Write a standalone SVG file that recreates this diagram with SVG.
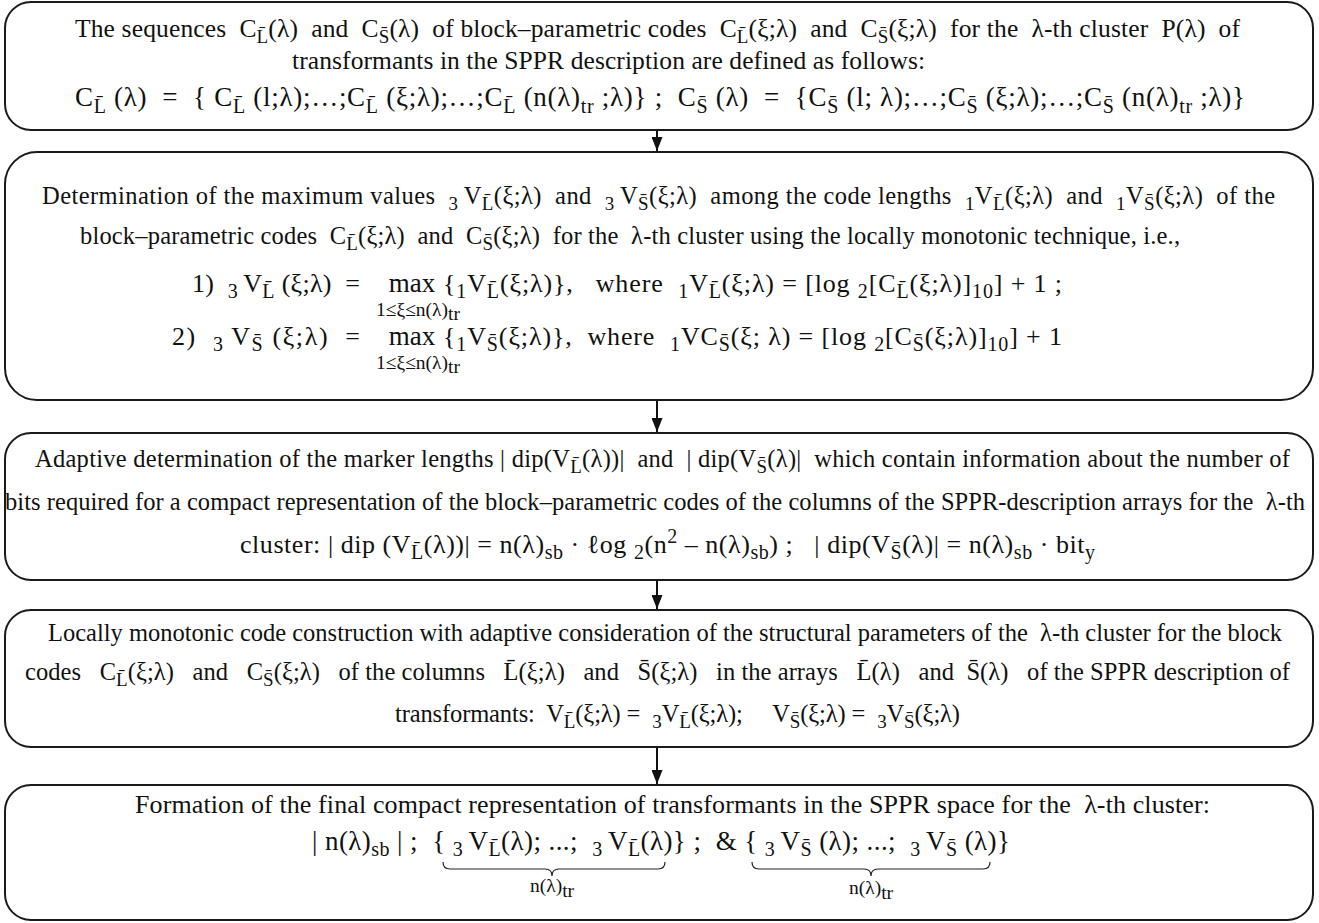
<svg xmlns="http://www.w3.org/2000/svg" width="1319" height="923" viewBox="0 0 1319 923">
<style>
.box{fill:#fff;stroke:#1a1a1a;stroke-width:2}
.t{font-family:'Liberation Serif','DejaVu Serif','Times New Roman',serif;font-size:24.5px;fill:#111;white-space:pre}
.b1{font-size:25.5px}
.m{font-size:26px}
.m27{font-size:27px}
.b5{font-size:26px}
.s{font-size:19px}
.s2{font-size:20px}
.mx{font-size:27px}
.u{font-family:'Liberation Serif','DejaVu Serif','Times New Roman',serif;font-size:19.5px;fill:#111;white-space:pre}
.conn line{stroke:#111;stroke-width:2}
.brace{fill:none;stroke:#222;stroke-width:1.2}
</style>
<defs>
<marker id="ah" markerUnits="userSpaceOnUse" markerWidth="14" markerHeight="11" refX="14" refY="5.5" orient="auto"><path d="M0,0 L14,5.5 L0,11 z" fill="#111"/></marker>
</defs>
<rect width="1319" height="923" fill="#fff"/>
<g id="connectors" class="conn">
<line x1="657" y1="130" x2="657" y2="151" marker-end="url(#ah)"/>
<line x1="657" y1="400" x2="657" y2="432" marker-end="url(#ah)"/>
<line x1="657" y1="580" x2="657" y2="609" marker-end="url(#ah)"/>
<line x1="657" y1="747" x2="657" y2="784" marker-end="url(#ah)"/>
</g>
<g id="node1">
<rect class="box" x="5" y="2" width="1308" height="128" rx="26"/>
<text class="t b1" x="75" y="37" textLength="1165" lengthAdjust="spacing">The sequences  C<tspan class="s" dy="6">L&#x304;</tspan><tspan dy="-6">(λ)  and  C</tspan><tspan class="s" dy="6">S&#x304;</tspan><tspan dy="-6">(λ)  of block–parametric codes  C</tspan><tspan class="s" dy="6">L&#x304;</tspan><tspan dy="-6">(ξ;λ)  and  C</tspan><tspan class="s" dy="6">S&#x304;</tspan><tspan dy="-6">(ξ;λ)  for the  λ-th cluster  P(λ)  of</tspan></text>
<text class="t b1" x="292" y="69" textLength="633" lengthAdjust="spacing">transformants in the SPPR description are defined as follows:</text>
<text class="t m27" x="75" y="106" textLength="1170" lengthAdjust="spacing">C<tspan class="s2" dy="7">L&#x304;</tspan><tspan dy="-7"> (λ)  =  { C</tspan><tspan class="s2" dy="7">L&#x304;</tspan><tspan dy="-7"> (l;λ);…;C</tspan><tspan class="s2" dy="7">L&#x304;</tspan><tspan dy="-7"> (ξ;λ);…;C</tspan><tspan class="s2" dy="7">L&#x304;</tspan><tspan dy="-7"> (n(λ)</tspan><tspan class="s2" dy="7">tr</tspan><tspan dy="-7"> ;λ)} ;  C</tspan><tspan class="s2" dy="7">S&#x304;</tspan><tspan dy="-7"> (λ)  =  {C</tspan><tspan class="s2" dy="7">S&#x304;</tspan><tspan dy="-7"> (l; λ);…;C</tspan><tspan class="s2" dy="7">S&#x304;</tspan><tspan dy="-7"> (ξ;λ);…;C</tspan><tspan class="s2" dy="7">S&#x304;</tspan><tspan dy="-7"> (n(λ)</tspan><tspan class="s2" dy="7">tr</tspan><tspan dy="-7"> ;λ)}</tspan></text>
</g>
<g id="node2">
<rect class="box" x="5" y="152" width="1308" height="248" rx="32"/>
<text class="t" x="42" y="204" textLength="1233" lengthAdjust="spacing">Determination of the maximum values  <tspan class="s" dy="6">3 </tspan><tspan dy="-6">V</tspan><tspan class="s" dy="6">L&#x304;</tspan><tspan dy="-6">(ξ;λ)  and  </tspan><tspan class="s" dy="6">3 </tspan><tspan dy="-6">V</tspan><tspan class="s" dy="6">S&#x304;</tspan><tspan dy="-6">(ξ;λ)  among the code lengths  </tspan><tspan class="s" dy="6">1</tspan><tspan dy="-6">V</tspan><tspan class="s" dy="6">L&#x304;</tspan><tspan dy="-6">(ξ;λ)  and  </tspan><tspan class="s" dy="6">1</tspan><tspan dy="-6">V</tspan><tspan class="s" dy="6">S&#x304;</tspan><tspan dy="-6">(ξ;λ)  of the</tspan></text>
<text class="t" x="80" y="244" textLength="1100" lengthAdjust="spacing">block–parametric codes  C<tspan class="s" dy="6">L&#x304;</tspan><tspan dy="-6">(ξ;λ)  and  C</tspan><tspan class="s" dy="6">S&#x304;</tspan><tspan dy="-6">(ξ;λ)  for the  λ-th cluster using the locally monotonic technique, i.e.,</tspan></text>
<text class="t m" x="192" y="292" textLength="168" lengthAdjust="spacing">1)  <tspan class="s2" dy="6">3 </tspan><tspan dy="-6">V</tspan><tspan class="s2" dy="6">L&#x304;</tspan><tspan dy="-6"> (ξ;λ)  =</tspan></text>
<text class="t mx" x="412" y="292" text-anchor="middle">max</text>
<text class="u" x="376" y="316">1≤ξ≤n(λ)<tspan dy="4">tr</tspan></text>
<text class="t m" x="443" y="292" textLength="619" lengthAdjust="spacing">{<tspan class="s2" dy="6">1</tspan><tspan dy="-6">V</tspan><tspan class="s2" dy="6">L&#x304;</tspan><tspan dy="-6">(ξ;λ)},   where  </tspan><tspan class="s2" dy="6">1</tspan><tspan dy="-6">V</tspan><tspan class="s2" dy="6">L&#x304;</tspan><tspan dy="-6">(ξ;λ) = [log </tspan><tspan class="s2" dy="6">2</tspan><tspan dy="-6">[C</tspan><tspan class="s2" dy="6">L&#x304;</tspan><tspan dy="-6">(ξ;λ)]</tspan><tspan class="s2" dy="6">10</tspan><tspan dy="-6">] + 1 ;</tspan></text>
<text class="t m" x="172" y="345" textLength="188" lengthAdjust="spacing">2)  <tspan class="s2" dy="6">3 </tspan><tspan dy="-6">V</tspan><tspan class="s2" dy="6">S&#x304;</tspan><tspan dy="-6"> (ξ;λ)  =</tspan></text>
<text class="t mx" x="412" y="345" text-anchor="middle">max</text>
<text class="u" x="376" y="369">1≤ξ≤n(λ)<tspan dy="4">tr</tspan></text>
<text class="t m" x="443" y="345" textLength="619" lengthAdjust="spacing">{<tspan class="s2" dy="6">1</tspan><tspan dy="-6">V</tspan><tspan class="s2" dy="6">S&#x304;</tspan><tspan dy="-6">(ξ;λ)},  where  </tspan><tspan class="s2" dy="6">1</tspan><tspan dy="-6">VC</tspan><tspan class="s2" dy="6">S&#x304;</tspan><tspan dy="-6">(ξ; λ) = [log </tspan><tspan class="s2" dy="6">2</tspan><tspan dy="-6">[C</tspan><tspan class="s2" dy="6">S&#x304;</tspan><tspan dy="-6">(ξ;λ)]</tspan><tspan class="s2" dy="6">10</tspan><tspan dy="-6">] + 1</tspan></text>
</g>
<g id="node3">
<rect class="box" x="5" y="433" width="1308" height="147" rx="26"/>
<text class="t" x="35" y="467" textLength="1255" lengthAdjust="spacing">Adaptive determination of the marker lengths | dip(V<tspan class="s" dy="6">L&#x304;</tspan><tspan dy="-6">(λ))|  and  | dip(V</tspan><tspan class="s" dy="6">S&#x304;</tspan><tspan dy="-6">(λ)|  which contain information about the number of</tspan></text>
<text class="t" x="5" y="510" textLength="1300" lengthAdjust="spacing">bits required for a compact representation of the block–parametric codes of the columns of the SPPR-description arrays for the  λ-th</text>
<text class="t m" x="240" y="553" textLength="855" lengthAdjust="spacing">cluster: | dip (V<tspan class="s2" dy="6">L&#x304;</tspan><tspan dy="-6">(λ))| = n(λ)</tspan><tspan class="s2" dy="6">sb</tspan><tspan dy="-6"> · ℓog </tspan><tspan class="s2" dy="6">2</tspan><tspan dy="-6">(n</tspan><tspan class="s2" dy="-10">2</tspan><tspan dy="10"> – n(λ)</tspan><tspan class="s2" dy="6">sb</tspan><tspan dy="-6">) ;   | dip(V</tspan><tspan class="s2" dy="6">S&#x304;</tspan><tspan dy="-6">(λ)| = n(λ)</tspan><tspan class="s2" dy="6">sb</tspan><tspan dy="-6"> · bit</tspan><tspan class="s2" dy="6">y</tspan></text>
</g>
<g id="node4">
<rect class="box" x="5" y="610" width="1308" height="137" rx="26"/>
<text class="t" x="48" y="641" textLength="1234" lengthAdjust="spacing">Locally monotonic code construction with adaptive consideration of the structural parameters of the  λ-th cluster for the block</text>
<text class="t" x="25" y="680" textLength="1265" lengthAdjust="spacing">codes   C<tspan class="s" dy="6">L&#x304;</tspan><tspan dy="-6">(ξ;λ)   and   C</tspan><tspan class="s" dy="6">S&#x304;</tspan><tspan dy="-6">(ξ;λ)   of the columns   L&#x304;(ξ;λ)   and   S&#x304;(ξ;λ)   in the arrays   L&#x304;(λ)   and  S&#x304;(λ)   of the SPPR description of</tspan></text>
<text class="t" x="395" y="722" textLength="565" lengthAdjust="spacing">transformants:  V<tspan class="s" dy="6">L&#x304;</tspan><tspan dy="-6">(ξ;λ) =  </tspan><tspan class="s" dy="6">3</tspan><tspan dy="-6">V</tspan><tspan class="s" dy="6">L&#x304;</tspan><tspan dy="-6">(ξ;λ);     V</tspan><tspan class="s" dy="6">S&#x304;</tspan><tspan dy="-6">(ξ;λ) =  </tspan><tspan class="s" dy="6">3</tspan><tspan dy="-6">V</tspan><tspan class="s" dy="6">S&#x304;</tspan><tspan dy="-6">(ξ;λ)</tspan></text>
</g>
<g id="node5">
<rect class="box" x="5" y="785" width="1308" height="135" rx="26"/>
<text class="t b5" x="135" y="813" textLength="1075" lengthAdjust="spacing">Formation of the final compact representation of transformants in the SPPR space for the  λ-th cluster:</text>
<text class="t m27" x="312" y="850" textLength="698" lengthAdjust="spacing">| n(λ)<tspan class="s2" dy="6">sb</tspan><tspan dy="-6"> | ;  { </tspan><tspan class="s2" dy="6">3 </tspan><tspan dy="-6">V</tspan><tspan class="s2" dy="6">L&#x304;</tspan><tspan dy="-6">(λ); ...;  </tspan><tspan class="s2" dy="6">3 </tspan><tspan dy="-6">V</tspan><tspan class="s2" dy="6">L&#x304;</tspan><tspan dy="-6">(λ)} ;  &amp; { </tspan><tspan class="s2" dy="6">3 </tspan><tspan dy="-6">V</tspan><tspan class="s2" dy="6">S&#x304;</tspan><tspan dy="-6"> (λ); ...;  </tspan><tspan class="s2" dy="6">3 </tspan><tspan dy="-6">V</tspan><tspan class="s2" dy="6">S&#x304;</tspan><tspan dy="-6"> (λ)}</tspan></text>
<path class="brace" d="M443,862 q0,7 7,7 L545,869 q7,0 7,7 q0,-7 7,-7 L658,869 q7,0 7,-7"/>
<path class="brace" d="M752,862 q0,7 7,7 L864,869 q7,0 7,7 q0,-7 7,-7 L983,869 q7,0 7,-7"/>
<text class="u" x="552" y="892" text-anchor="middle">n(λ)<tspan dy="5">tr</tspan></text>
<text class="u" x="871" y="894" text-anchor="middle">n(λ)<tspan dy="5">tr</tspan></text>
</g>
</svg>
